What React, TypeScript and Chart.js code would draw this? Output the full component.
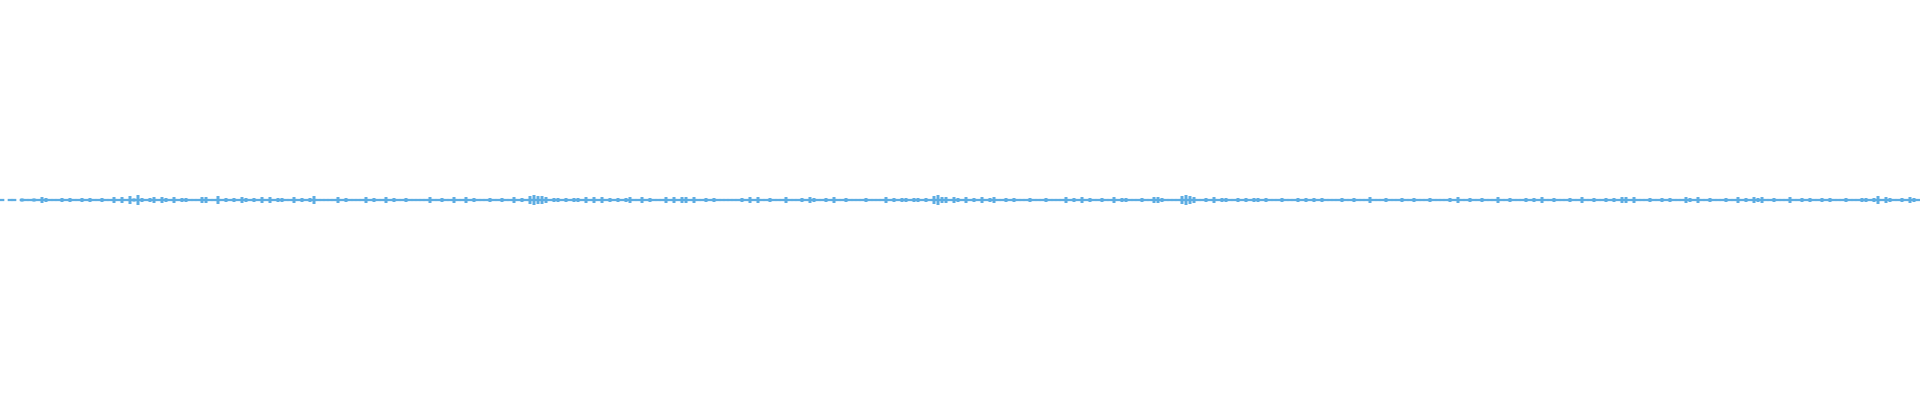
import React, { useEffect, useRef } from "react";
import { Chart, registerables } from "chart.js";

Chart.register(...registerables);

// Waveform amplitudes (percent of full scale), 60 bins per segment, left to right.
const segment0 = [
  0.4, 0, 0.4, 0.4, 0, 0.8, 0.4, 0.4, 0.8, 0.4,
  1.5, 1, 0.4, 0.4, 0.4, 1, 0.4, 1, 0.4, 0.4,
  1, 0.4, 1, 0.4, 0.4, 1, 0.4, 0.4, 1.5, 0.4,
  1.5, 0.4, 2, 0.8, 2.5, 1, 0.4, 1, 1.5, 0.4,
  1.5, 1, 0.4, 1.5, 0.4, 1, 1, 0.4, 0.4, 0.4,
  1.5, 1.5, 0.4, 0.4, 2, 0.4, 1, 0.4, 1, 0.4,
];
const segment1 = [
  1.5, 1, 0.4, 1, 0.4, 1.5, 0.4, 1.5, 0.4, 1,
  1, 0.4, 0.4, 1.5, 0.4, 1, 0.4, 1, 2, 0.4,
  0.4, 0.4, 0.4, 0.4, 1.5, 0.4, 1, 0.4, 0.4, 0.4,
  0.4, 1.5, 0.4, 1, 0.4, 0.4, 1.5, 0.4, 1, 0.4,
  0.4, 1, 0.4, 0.4, 0.4, 0.4, 0.4, 1.5, 0.4, 0.4,
  1, 0.4, 0.4, 1.5, 0.4, 0.4, 1.5, 0.4, 1, 0.4,
];
const segment2 = [
  0.4, 0.4, 1, 0.4, 0.4, 1, 0.4, 0.4, 1.5, 0.4,
  1, 0.4, 2, 2.5, 2, 2, 1.5, 0.4, 1, 1,
  0.4, 1, 0.4, 1, 1, 0.4, 1.5, 0.4, 1.5, 0.4,
  1.5, 0.4, 1, 0.4, 1, 0.4, 1, 1.5, 0.4, 0.4,
  1.5, 0.4, 1, 0.4, 0.4, 0.4, 1.5, 0.4, 1.5, 0.4,
  1.5, 1.5, 0.4, 1.5, 0.4, 0.4, 1, 0.4, 1, 0.4,
];
const segment3 = [
  0.4, 0.4, 0.4, 0.4, 0.4, 1, 0.4, 1.5, 0.4, 1.5,
  0.4, 0.4, 1, 0.4, 0.4, 0.4, 1.5, 0.4, 0.4, 0.4,
  1, 0.4, 1.5, 1, 0.4, 0.4, 1, 0.4, 1.5, 0.4,
  0.4, 1, 0.4, 0.4, 0.4, 0.4, 1, 0.4, 0.4, 0.4,
  0.4, 1.5, 0.4, 1, 0.4, 1, 1, 0.4, 1, 1,
  0.4, 1, 0.4, 2, 2.5, 1.5, 1.5, 0.4, 1.5, 1,
];
const segment4 = [
  0.4, 1.5, 0.4, 1, 0.4, 1.5, 0.4, 1, 1.5, 0.4,
  0.4, 1, 0.4, 1, 0.4, 0.4, 0.4, 1, 0.4, 0.4,
  0.4, 1, 0.4, 0.4, 0.4, 0.4, 1.5, 0.4, 1, 0.4,
  1.5, 0.4, 1, 0.4, 0.4, 1, 0.4, 0.4, 1.5, 0.4,
  1, 1, 0.4, 0.4, 0.4, 1, 0.4, 0.4, 1.5, 1.5,
  1, 0.4, 0.4, 0.4, 0.4, 2, 2.5, 2, 1.5, 0.4,
];
const segment5 = [
  0.4, 1, 0.4, 1.5, 0.4, 1, 1, 0.4, 0.4, 1,
  0.4, 1, 0.4, 1, 1, 0.4, 1, 0.4, 0.4, 0.4,
  1, 0.4, 0.4, 0.4, 1, 0.4, 1, 0.4, 1, 0.4,
  1, 0.4, 0.4, 0.4, 0.4, 1, 0.4, 0.4, 1, 0.4,
  0.4, 0.4, 1.5, 0.4, 0.4, 0.4, 1, 0.4, 0.4, 0.4,
  1, 0.4, 0.4, 1, 0.4, 0.4, 0.4, 1, 0.4, 0.4,
];
const segment6 = [
  0.4, 0.4, 1, 0.4, 1.5, 0.4, 0.4, 1, 0.4, 0.4,
  1, 0.4, 0.4, 0.4, 1.5, 0.4, 0.4, 1, 0.4, 0.4,
  0.4, 1, 0.4, 1, 0.4, 1.5, 0.4, 0.4, 1, 0.4,
  0.4, 0.4, 1, 0.4, 0.4, 1.5, 0.4, 0.4, 1, 0.4,
  0.4, 1, 0.4, 1, 0.4, 1.5, 1.5, 0.4, 1.5, 0.4,
  0.4, 0.4, 1, 0.4, 0.4, 1, 0.4, 1, 0.4, 0.4,
];
const segment7 = [
  0.4, 1.5, 1, 0.4, 1.5, 0.4, 0.4, 1, 0.4, 0.4,
  0.4, 1, 0.4, 0.4, 1.5, 0.4, 1, 0.4, 1.5, 1,
  1.5, 0.4, 0.4, 1, 0.4, 0.4, 0.4, 1.5, 0.4, 0.4,
  1, 0.4, 1, 0.4, 0.4, 1, 0.4, 1, 0.4, 0.4,
  0.4, 1, 0.4, 0.4, 0.4, 1, 1, 0.4, 1, 2,
  0.4, 1.5, 1, 0.4, 0.4, 1, 0.4, 1.5, 1, 0.4,
];

const amplitudes = [
  ...segment0, ...segment1, ...segment2, ...segment3,
  ...segment4, ...segment5, ...segment6, ...segment7,
];
const binLabels = amplitudes.map((_, i) => String(i));
const BASE = 0.4;

export default function App() {
  const canvasRef = useRef<HTMLCanvasElement | null>(null);

  useEffect(() => {
    document.body.style.margin = "0";
    const canvas = canvasRef.current;
    if (!canvas) return;
    const color = "#5dade2";
    const chart = new Chart(canvas, {
      type: "bar",
      data: {
        labels: binLabels,
        datasets: [
          {
            data: amplitudes.map((a) => (a > 0 ? [-Math.min(a, BASE), Math.min(a, BASE)] : null)) as any,
            backgroundColor: color,
            borderWidth: 0,
            barPercentage: 1,
            categoryPercentage: 1,
            borderSkipped: false,
            grouped: false,
          },
          {
            data: amplitudes.map((a) => (a > BASE ? [-a, a] : null)) as any,
            backgroundColor: color,
            borderWidth: 0,
            barPercentage: 0.75,
            categoryPercentage: 1,
            borderSkipped: false,
            grouped: false,
          },
        ],
      },
      options: {
        animation: false,
        responsive: false,
        maintainAspectRatio: false,
        layout: { padding: 0 },
        plugins: { legend: { display: false }, tooltip: { enabled: false } },
        scales: {
          x: { display: false },
          y: { display: false, min: -100, max: 100 },
        },
      },
    });
    return () => chart.destroy();
  }, []);

  return (
    <div style={{ width: 1920, height: 400, background: "#ffffff" }}>
      <canvas ref={canvasRef} width={1920} height={400} style={{ display: "block" }} />
    </div>
  );
}
